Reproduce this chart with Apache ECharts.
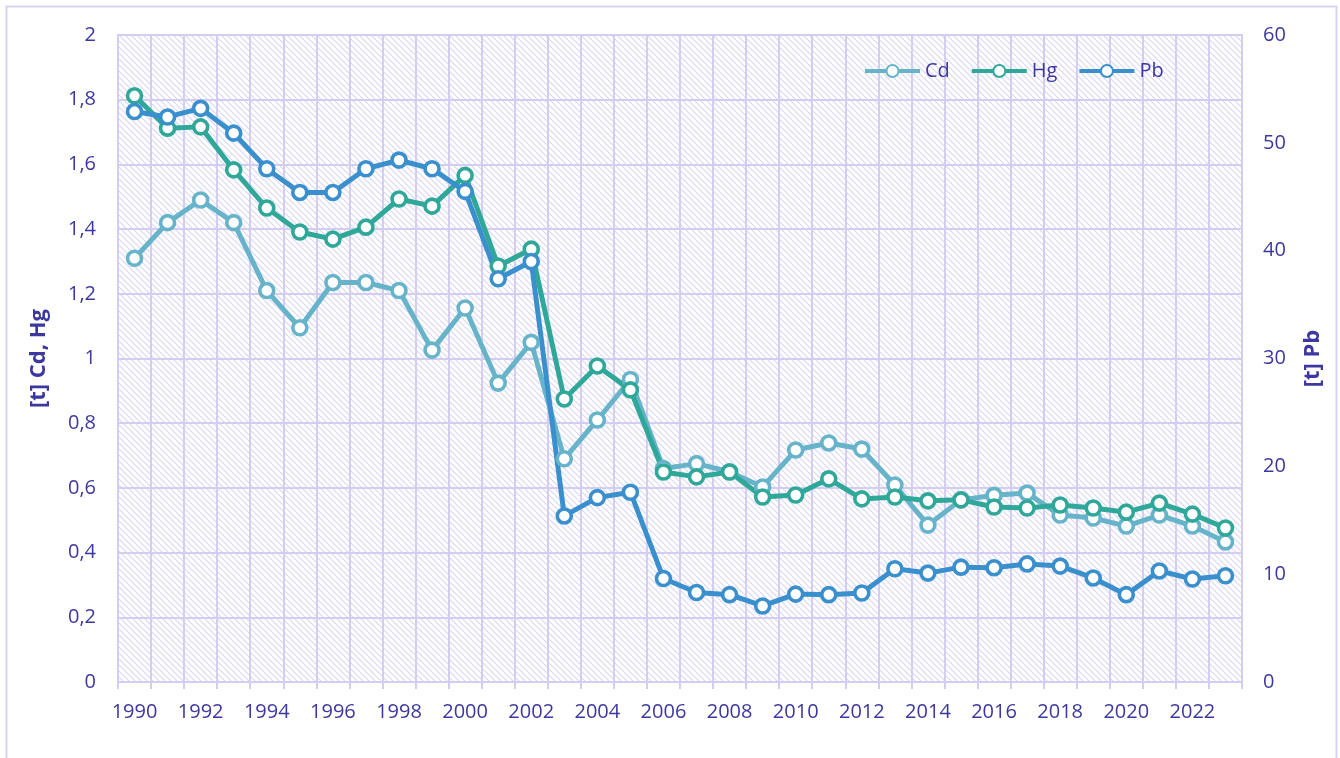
<!DOCTYPE html>
<html>
<head>
<meta charset="utf-8">
<script src="https://cdn.jsdelivr.net/npm/echarts@6/dist/echarts.min.js"></script>
<style>
  html, body { margin: 0; padding: 0; background: #fff; }
  #chart { width: 1340px; height: 758px; }
</style>
</head>
<body>
<div id="chart"></div>
<script>
var years = ['1990', '1991', '1992', '1993', '1994', '1995', '1996', '1997', '1998', '1999',
    '2000', '2001', '2002', '2003', '2004', '2005', '2006', '2007', '2008', '2009',
    '2010', '2011', '2012', '2013', '2014', '2015', '2016', '2017', '2018', '2019',
    '2020', '2021', '2022', '2023'];
var cd = [1.31, 1.42, 1.49, 1.42, 1.21, 1.095, 1.235, 1.235, 1.21, 1.026,
    1.156, 0.924, 1.05, 0.69, 0.81, 0.935, 0.66, 0.675, 0.65, 0.603,
    0.717, 0.739, 0.72, 0.609, 0.485, 0.563, 0.577, 0.584, 0.516, 0.507,
    0.482, 0.516, 0.482, 0.433];
var hg = [1.812, 1.712, 1.716, 1.583, 1.465, 1.391, 1.369, 1.406, 1.493, 1.471,
    1.566, 1.286, 1.338, 0.875, 0.977, 0.903, 0.649, 0.634, 0.649, 0.572,
    0.578, 0.628, 0.566, 0.572, 0.56, 0.563, 0.541, 0.538, 0.547, 0.538,
    0.525, 0.553, 0.519, 0.476];
var pb = [52.9, 52.4, 53.2, 50.9, 47.6, 45.4, 45.4, 47.6, 48.4, 47.6,
    45.5, 37.4, 39.0, 15.4, 17.1, 17.6, 9.6, 8.3, 8.1, 7.05,
    8.15, 8.1, 8.25, 10.5, 10.1, 10.65, 10.6, 10.95, 10.75, 9.65,
    8.1, 10.3, 9.55, 9.85];

var textColor = '#3D389F';
var gridColor = '#D3CEF1';
var font = '"Open Sans", "Noto Sans", sans-serif';

// diagonal hatch for the plot area
var hatch = document.createElement('canvas');
hatch.width = 6;
hatch.height = 6;
var hc = hatch.getContext('2d');
hc.fillStyle = '#ffffff';
hc.fillRect(0, 0, 6, 6);
hc.strokeStyle = '#DAD7F5';
hc.lineWidth = 1.2;
hc.beginPath();
hc.moveTo(-1, -1); hc.lineTo(7, 7);
hc.moveTo(-4, 2); hc.lineTo(4, 10);
hc.moveTo(2, -4); hc.lineTo(10, 4);
hc.stroke();

function lineSeries(name, data, color, axisIndex) {
    return {
        name: name,
        type: 'line',
        yAxisIndex: axisIndex,
        data: data,
        symbol: 'circle',
        symbolSize: 14,
        lineStyle: { color: color, width: 5 },
        itemStyle: { color: '#ffffff', borderColor: color, borderWidth: 3.6 }
    };
}

var option = {
    animation: false,
    textStyle: { fontFamily: font },
    graphic: [{
        type: 'rect',
        shape: { x: 6.5, y: 6.5, width: 1330, height: 770 },
        style: { fill: 'none', stroke: '#D6D3F3', lineWidth: 2 },
        silent: true
    }],
    legend: {
        top: 56,
        left: 858,
        itemGap: 20,
        itemWidth: 55,
        itemHeight: 15,
        lineStyle: { width: 4 },
        textStyle: { color: textColor, fontSize: 20, fontFamily: font },
        data: ['Cd', 'Hg', 'Pb']
    },
    grid: {
        left: 118,
        right: 98,
        top: 35,
        bottom: 76,
        show: true,
        backgroundColor: { image: hatch, repeat: 'repeat' },
        borderColor: gridColor,
        borderWidth: 2
    },
    xAxis: {
        type: 'category',
        data: years,
        boundaryGap: true,
        axisLine: { lineStyle: { color: gridColor, width: 2 } },
        axisTick: { show: true, interval: 0, length: 7, lineStyle: { color: gridColor, width: 2 } },
        axisLabel: { interval: 1, color: textColor, fontSize: 20, margin: 20, fontFamily: font },
        splitLine: { show: true, interval: 0, lineStyle: { color: gridColor, width: 2 } }
    },
    yAxis: [{
        type: 'value',
        min: 0,
        max: 2,
        interval: 0.2,
        name: '[t] Cd, Hg',
        nameLocation: 'middle',
        nameGap: 68,
        nameTextStyle: { color: textColor, fontSize: 22, fontWeight: 'bold', fontFamily: font },
        axisLine: { show: false },
        axisTick: { show: false },
        axisLabel: {
            color: textColor, fontSize: 20, margin: 22, fontFamily: font,
            formatter: function (v) { return String(Math.round(v * 10) / 10).replace('.', ','); }
        },
        splitLine: { lineStyle: { color: gridColor, width: 2 } }
    }, {
        type: 'value',
        min: 0,
        max: 60,
        interval: 10,
        name: '[t] Pb',
        nameLocation: 'middle',
        nameRotate: 90,
        nameGap: 60,
        nameTextStyle: { color: textColor, fontSize: 22, fontWeight: 'bold', fontFamily: font },
        axisLine: { show: false },
        axisTick: { show: false },
        axisLabel: { color: textColor, fontSize: 20, margin: 21, fontFamily: font },
        splitLine: { show: false }
    }],
    series: [
        lineSeries('Cd', cd, '#67B4CA', 0),
        lineSeries('Hg', hg, '#2FA899', 0),
        lineSeries('Pb', pb, '#3A8FCD', 1)
    ]
};

var chart = echarts.init(document.getElementById('chart'));
chart.setOption(option);
</script>
</body>
</html>
